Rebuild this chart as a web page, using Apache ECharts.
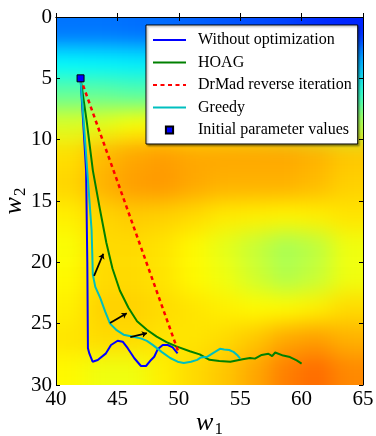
<!DOCTYPE html>
<html>
<head>
<meta charset="utf-8">
<script src="https://cdn.jsdelivr.net/npm/echarts@6/dist/echarts.min.js"></script>
<style>
	html, body { margin: 0; padding: 0; background: #fff; }
	#box { position: relative; width: 376px; height: 436px; }
	#clip { position: absolute; left: 56px; top: 17px; width: 307px; height: 368px; overflow: hidden; }
	#heat { position: absolute; left: -31px; top: -31px; width: 368px; height: 430px; filter: blur(11px); }
	#main { position: absolute; left: 0; top: 0; width: 376px; height: 436px; }
</style>
</head>
<body>
<div id="box">
	<div id="clip"><div id="heat"></div></div>
	<div id="main"></div>
</div>
<script>
// background field (0..1 on the jet scale)
// columns: w1 = 41.25 .. 63.75 step 2.5, rows: w2 = 1.25 .. 28.75 step 2.5
var heatCols = [41.25, 43.75, 46.25, 48.75, 51.25, 53.75, 56.25, 58.75, 61.25, 63.75];
var heatRows = [1.25, 3.75, 6.25, 8.75, 11.25, 13.75, 16.25, 18.75, 21.25, 23.75, 26.25, 28.75];
var heatValues = [
	[0.24, 0.24, 0.235, 0.23, 0.22, 0.21, 0.2, 0.19, 0.17, 0.16],
	[0.37, 0.365, 0.36, 0.355, 0.35, 0.34, 0.33, 0.32, 0.31, 0.30],
	[0.47, 0.47, 0.46, 0.46, 0.45, 0.44, 0.43, 0.43, 0.42, 0.42],
	[0.59, 0.60, 0.62, 0.63, 0.62, 0.61, 0.60, 0.58, 0.56, 0.55],
	[0.655, 0.69, 0.71, 0.72, 0.71, 0.71, 0.71, 0.71, 0.70, 0.68],
	[0.665, 0.70, 0.72, 0.725, 0.71, 0.70, 0.70, 0.70, 0.69, 0.67],
	[0.64, 0.665, 0.675, 0.67, 0.66, 0.645, 0.64, 0.635, 0.64, 0.65],
	[0.62, 0.66, 0.66, 0.65, 0.63, 0.60, 0.57, 0.54, 0.56, 0.61],
	[0.63, 0.66, 0.66, 0.65, 0.63, 0.61, 0.58, 0.55, 0.57, 0.61],
	[0.64, 0.67, 0.67, 0.66, 0.65, 0.64, 0.63, 0.63, 0.64, 0.66],
	[0.65, 0.66, 0.66, 0.65, 0.65, 0.66, 0.68, 0.71, 0.72, 0.70],
	[0.63, 0.61, 0.61, 0.64, 0.66, 0.68, 0.71, 0.75, 0.77, 0.74]
];
var jet = ['#00007f', '#0000ff', '#007fff', '#00ffff', '#7fff7f', '#ffff00', '#ff7f00', '#ff0000', '#7f0000'];

var withoutOpt = [
	[42, 5], [42.45, 12.5], [42.55, 20], [42.6, 27], [42.72, 27.45], [42.98, 28.1], [43.4, 27.96],
	[44.07, 27.42], [44.48, 26.74], [45.02, 26.39], [45.43, 26.47], [45.84, 27.0], [46.38, 27.82],
	[46.92, 28.45], [47.33, 28.45], [47.74, 27.96], [48.0, 27.7], [48.28, 27.09], [48.69, 26.74],
	[49.1, 26.74], [49.5, 26.93], [49.9, 27.42]
];
var hoag = [
	[42, 5], [42.5, 8.5], [43, 12.5], [43.6, 15.8], [44.1, 18.4], [44.6, 20.5], [45.2, 22.3],
	[45.9, 23.7], [46.6, 24.8], [47.4, 25.5], [48.2, 26.06], [49, 26.5], [49.8, 26.85], [50.9, 27.25],
	[51.7, 27.5], [52.5, 27.95], [53.3, 28.05], [54.2, 28.1], [55.2, 27.9], [55.8, 27.8], [56.2, 27.85],
	[56.75, 27.55], [57.3, 27.45], [57.6, 27.65], [57.85, 27.35], [58.5, 27.6], [59.05, 27.72],
	[59.6, 28.0], [60, 28.25]
];
var drmad = [[42, 5], [50, 27.4]];
var greedy = [
	[42, 5], [42.5, 11.9], [42.9, 17.4], [43.0, 21.0], [43.2, 22.0], [43.6, 22.9], [44.0, 24.0],
	[44.4, 25.0], [44.9, 25.5], [45.5, 25.9], [46.2, 26.05], [46.9, 26.2], [47.4, 26.4], [47.9, 26.75],
	[48.6, 27.3], [49.3, 27.8], [49.9, 28.1], [50.4, 28.2], [51.0, 28.1], [51.5, 27.95], [51.8, 27.75],
	[52.3, 27.7], [52.95, 27.3], [53.35, 27.05], [53.7, 27.1], [54.1, 27.15], [54.45, 27.3],
	[54.8, 27.6], [55.0, 27.85]
];
var initialPoint = [[42, 5]];
var arrows = [
	[[43.1, 21.1], [43.85, 19.3]],
	[[44.4, 24.95], [45.76, 24.15]],
	[[46.05, 26.1], [47.4, 25.78]]
];
var xTicks = [40, 65, 5];
var yTicks = [0, 30, 5];

// ---- background layer ----
var heatData = [];
var r, c, rr, cc;
for (r = -1; r <= heatRows.length; r++) {
	for (c = -1; c <= heatCols.length; c++) {
		rr = Math.min(Math.max(r, 0), heatRows.length - 1);
		cc = Math.min(Math.max(c, 0), heatCols.length - 1);
		heatData.push([c + 1, r + 1, heatValues[rr][cc]]);
	}
}
var xCats = [], yCats = [];
for (c = 0; c < heatCols.length + 2; c++) xCats.push(c);
for (r = 0; r < heatRows.length + 2; r++) yCats.push(r);

var heatChart = echarts.init(document.getElementById('heat'));
heatChart.setOption({
	animation: false,
	grid: { left: 0, right: 0, top: 0, bottom: 0, outerBoundsMode: 'none' },
	xAxis: { type: 'category', data: xCats, show: false },
	yAxis: { type: 'category', data: yCats, show: false, inverse: true },
	visualMap: { show: false, min: 0, max: 1, dimension: 2, inRange: { color: jet } },
	series: [{ type: 'heatmap', data: heatData, itemStyle: { borderWidth: 0 } }]
});

// ---- main layer ----
var serif = "'Liberation Serif', 'Times New Roman', serif";
var axisLine = { show: true, lineStyle: { color: '#000', width: 1 } };
var tick = { show: true, inside: true, length: 4, lineStyle: { color: '#000' } };
var nameRich = {
	i: { fontFamily: serif, fontStyle: 'italic', fontSize: 26, color: '#000' },
	s: { fontFamily: serif, fontSize: 17, color: '#000', padding: [12, 0, 0, 1] }
};
var hideDot = { opacity: 0 };

var myChart = echarts.init(document.getElementById('main'));
var option = {
	animation: false,
	backgroundColor: 'transparent',
	grid: { left: 56, top: 17, right: 13, bottom: 51, containLabel: false, outerBoundsMode: 'none' },
	legend: {
		orient: 'vertical',
		left: 146,
		top: 25,
		padding: [7, 6, 6, 6],
		itemWidth: 33,
		itemHeight: 9,
		itemGap: 6.5,
		backgroundColor: '#fff',
		borderColor: '#000',
		borderWidth: 1,
		shadowColor: 'rgba(0,0,0,0.35)',
		shadowOffsetX: 1.5,
		shadowOffsetY: 1.5,
		shadowBlur: 2,
		textStyle: { fontFamily: serif, fontSize: 16, color: '#000', padding: [0, 0, 0, 7] },
		data: [
			{ name: 'Without optimization', itemStyle: hideDot },
			{ name: 'HOAG', itemStyle: hideDot },
			{ name: 'DrMad reverse iteration', itemStyle: hideDot },
			{ name: 'Greedy', itemStyle: hideDot },
			{ name: 'Initial parameter values', lineStyle: { opacity: 0 } }
		]
	},
	xAxis: [{
		type: 'value', min: xTicks[0], max: xTicks[1], interval: xTicks[2], position: 'bottom',
		axisLine: axisLine, axisTick: tick, splitLine: { show: false },
		axisLabel: { fontFamily: serif, fontSize: 21, color: '#000', margin: 4 },
		name: '{i|w}{s|1}', nameLocation: 'middle', nameGap: 24, nameMoveOverlap: false,
		nameTextStyle: { rich: nameRich }
	}, {
		type: 'value', min: xTicks[0], max: xTicks[1], interval: xTicks[2], position: 'top',
		axisLine: axisLine, axisTick: tick, splitLine: { show: false }, axisLabel: { show: false }
	}],
	yAxis: [{
		type: 'value', min: yTicks[0], max: yTicks[1], interval: yTicks[2], inverse: true, position: 'left',
		axisLine: axisLine, axisTick: tick, splitLine: { show: false },
		axisLabel: { fontFamily: serif, fontSize: 21, color: '#000', margin: 4 },
		name: '{i|w}{s|2}', nameLocation: 'middle', nameGap: 27, nameRotate: 90, nameMoveOverlap: false,
		nameTextStyle: { rich: nameRich }
	}, {
		type: 'value', min: yTicks[0], max: yTicks[1], interval: yTicks[2], inverse: true, position: 'right',
		axisLine: axisLine, axisTick: tick, splitLine: { show: false }, axisLabel: { show: false }
	}],
	series: [
		{
			name: 'Without optimization', type: 'line', data: withoutOpt, symbol: 'none',
			lineStyle: { color: '#0000ff', width: 2 }, itemStyle: { color: '#0000ff' }, z: 3
		},
		{
			name: 'HOAG', type: 'line', data: hoag, symbol: 'none',
			lineStyle: { color: '#008000', width: 2 }, itemStyle: { color: '#008000' }, z: 3
		},
		{
			name: 'DrMad reverse iteration', type: 'line', data: drmad, symbol: 'none',
			lineStyle: { color: '#ff0000', width: 2.5, type: [4, 3.5] }, itemStyle: { color: '#ff0000' }, z: 4
		},
		{
			name: 'Greedy', type: 'line', data: greedy, symbol: 'none',
			lineStyle: { color: '#00bfbf', width: 2 }, itemStyle: { color: '#00bfbf' }, z: 3
		},
		{
			name: 'arrows', type: 'lines', coordinateSystem: 'cartesian2d',
			data: arrows.map(function (a) { return { coords: a }; }),
			symbol: ['none', 'arrow'], symbolSize: 5,
			lineStyle: { color: '#000', width: 1.8, opacity: 1 }, z: 5
		},
		{
			name: 'Initial parameter values', type: 'line', data: initialPoint,
			symbol: 'rect', symbolSize: 7, showSymbol: true,
			lineStyle: { opacity: 0 },
			itemStyle: { color: '#0000ff', borderColor: '#000', borderWidth: 1 }, z: 6
		}
	]
};
myChart.setOption(option);
</script>
</body>
</html>
